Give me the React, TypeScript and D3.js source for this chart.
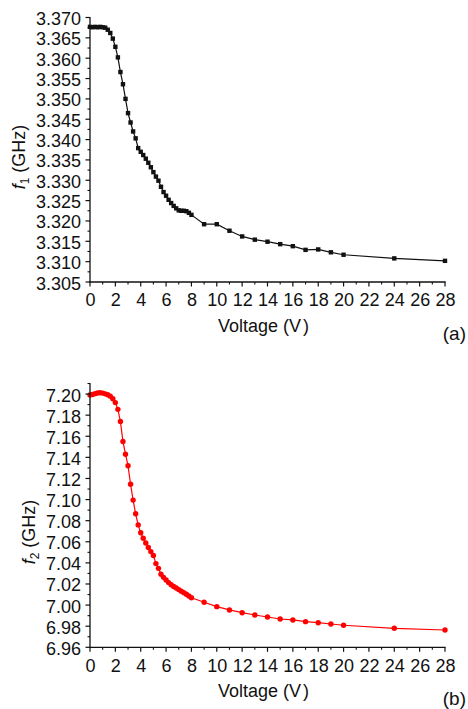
import React from "react";
import * as d3 from "d3";

const voltageA: number[] = [0,0.2,0.4,0.6,0.8,1.0,1.2,1.4,1.6,1.8,2.0,2.2,2.4,2.6,2.8,3.0,3.2,3.4,3.6,3.8,4.0,4.2,4.4,4.6,4.8,5.0,5.2,5.4,5.6,5.8,6.0,6.2,6.4,6.6,6.8,7.0,7.2,7.4,7.6,7.8,8.0,9,10,11,12,13,14,15,16,17,18,19,20,24,28];
const f1Values: number[] = [3.3677,3.3676,3.3677,3.3676,3.3677,3.3676,3.3675,3.3670,3.3662,3.3648,3.3628,3.3602,3.3566,3.3536,3.3500,3.3465,3.3442,3.3420,3.3403,3.3379,3.3370,3.3362,3.3353,3.3343,3.3332,3.3320,3.3309,3.3299,3.3284,3.3271,3.3262,3.3252,3.3244,3.3237,3.3231,3.3226,3.3225,3.3225,3.3224,3.3220,3.3215,3.3192,3.3192,3.3176,3.3162,3.3154,3.3149,3.3143,3.3138,3.3129,3.3130,3.3123,3.3117,3.3108,3.3102];

const voltageB: number[] = [0,0.2,0.4,0.6,0.8,1.0,1.2,1.4,1.6,1.8,2.0,2.2,2.4,2.6,2.8,3.0,3.2,3.4,3.6,3.8,4.0,4.2,4.4,4.6,4.8,5.0,5.2,5.4,5.6,5.8,6.0,6.2,6.4,6.6,6.8,7.0,7.2,7.4,7.6,7.8,8.0,9,10,11,12,13,14,15,16,17,18,19,20,24,28];
const f2Values: number[] = [7.1991,7.1996,7.2004,7.2010,7.2013,7.2009,7.2002,7.1993,7.1980,7.1956,7.1919,7.1855,7.1740,7.1550,7.1430,7.1320,7.1145,7.0995,7.0865,7.0760,7.0685,7.0633,7.0588,7.0546,7.0507,7.0470,7.0393,7.0348,7.0292,7.0263,7.0238,7.0213,7.0193,7.0176,7.0162,7.0147,7.0132,7.0118,7.0103,7.0086,7.0070,7.0027,6.9985,6.9954,6.9928,6.9906,6.9887,6.9868,6.9859,6.9843,6.9833,6.9821,6.9809,6.9780,6.9764];

const xTicks: number[] = [0,2,4,6,8,10,12,14,16,18,20,22,24,26,28];
const yTicksA: number[] = [3.305,3.310,3.315,3.320,3.325,3.330,3.335,3.340,3.345,3.350,3.355,3.360,3.365,3.370];
const yTicksB: number[] = [6.96,6.98,7.00,7.02,7.04,7.06,7.08,7.10,7.12,7.14,7.16,7.18,7.20];

const FONT = "'Liberation Sans', Arial, sans-serif";
const FS = 18;

type PanelProps = {
  xs: number[];
  ys: number[];
  yTicks: number[];
  yDomain: [number, number];
  yRange: [number, number];
  yFmt: (v: number) => string;
  color: string;
  marker: "square" | "circle";
  sub: string;
  titleX: number;
  titleY: number;
  xLabelY: number;
  letter: string;
  letterY: number;
  voltY: number;
};

function Panel(p: PanelProps) {
  const x = d3.scaleLinear().domain([0, 28]).range([90, 445]);
  const y = d3.scaleLinear().domain(p.yDomain).range(p.yRange);
  const y0 = p.yRange[0];
  const step = p.yTicks[1] - p.yTicks[0];
  const minorY: number[] = [];
  for (let v = p.yDomain[0] + step / 2; v < p.yDomain[1] + 1e-9; v += step) {
    if (!p.yTicks.some((t) => Math.abs(t - v) < 1e-9)) minorY.push(v);
  }
  const minorX = d3.range(1, 28, 2);
  const pts = p.xs.map((v, i) => [v, p.ys[i]] as [number, number]);
  const line = d3.line<[number, number]>().x((d) => x(d[0])).y((d) => y(d[1]));
  return (
    <g fontFamily={FONT} fill="#111">
      <path d={line(pts) || ""} fill="none" stroke={p.color} strokeWidth={1.2} />
      {pts.map((d, i) =>
        p.marker === "square" ? (
          <rect key={i} x={x(d[0]) - 2.2} y={y(d[1]) - 2.2} width={4.4} height={4.4} fill={p.color} />
        ) : (
          <circle key={i} cx={x(d[0])} cy={y(d[1])} r={2.7} fill={p.color} />
        )
      )}
      <line x1={90} x2={90} y1={y(p.yDomain[1]) - 0.6} y2={y0 + 0.6} stroke="#111" strokeWidth={1.3} />
      <line x1={89.4} x2={445.6} y1={y0} y2={y0} stroke="#111" strokeWidth={1.3} />
      {p.yTicks.map((t) => (
        <g key={"yt" + t}>
          <line x1={85.5} x2={90} y1={y(t)} y2={y(t)} stroke="#111" strokeWidth={1.2} />
          <text x={81} y={y(t) + 7.5} textAnchor="end" fontSize={FS}>{p.yFmt(t)}</text>
        </g>
      ))}
      {minorY.map((t) => (
        <line key={"ym" + t} x1={87.5} x2={90} y1={y(t)} y2={y(t)} stroke="#111" strokeWidth={1.1} />
      ))}
      {xTicks.map((t) => (
        <g key={"xt" + t}>
          <line x1={x(t)} x2={x(t)} y1={y0} y2={y0 + 4.5} stroke="#111" strokeWidth={1.2} />
          <text x={x(t) + 0.5} y={p.xLabelY} textAnchor="middle" fontSize={FS}>{t}</text>
        </g>
      ))}
      {minorX.map((t) => (
        <line key={"xm" + t} x1={x(t)} x2={x(t)} y1={y0} y2={y0 + 2.5} stroke="#111" strokeWidth={1.1} />
      ))}
      <text x={218} y={p.voltY} fontSize={FS}>Voltage (V<tspan dx={2}>)</tspan></text>
      <text x={466} y={p.letterY} textAnchor="end" fontSize={19}>{p.letter}</text>
      <text transform={`translate(${p.titleX},${p.titleY}) rotate(-90)`} textAnchor="middle" fontSize={FS}>
        <tspan fontStyle="italic">f</tspan>
        <tspan fontSize={12} dy={4}>{p.sub}</tspan>
        <tspan dy={-4}> (GHz)</tspan>
      </text>
    </g>
  );
}

export default function App() {
  return (
    <svg width={468} height={709} style={{ position: "absolute", left: 0, top: 0, background: "#fff" }}>
      <rect width={468} height={709} fill="#fff" />
      <Panel
        xs={voltageA}
        ys={f1Values}
        yTicks={yTicksA}
        yDomain={[3.305, 3.370]}
        yRange={[282, 17.5]}
        yFmt={(v) => v.toFixed(3)}
        color="#111"
        marker="square"
        sub="1"
        titleX={25}
        titleY={157}
        xLabelY={306}
        letter="(a)"
        letterY={340}
        voltY={332}
      />
      <Panel
        xs={voltageB}
        ys={f2Values}
        yTicks={yTicksB}
        yDomain={[6.96, 7.21]}
        yRange={[647.3, 383.5]}
        yFmt={(v) => v.toFixed(2)}
        color="#ff0000"
        marker="circle"
        sub="2"
        titleX={35}
        titleY={532}
        xLabelY={672}
        letter="(b)"
        letterY={705}
        voltY={697}
      />
    </svg>
  );
}
